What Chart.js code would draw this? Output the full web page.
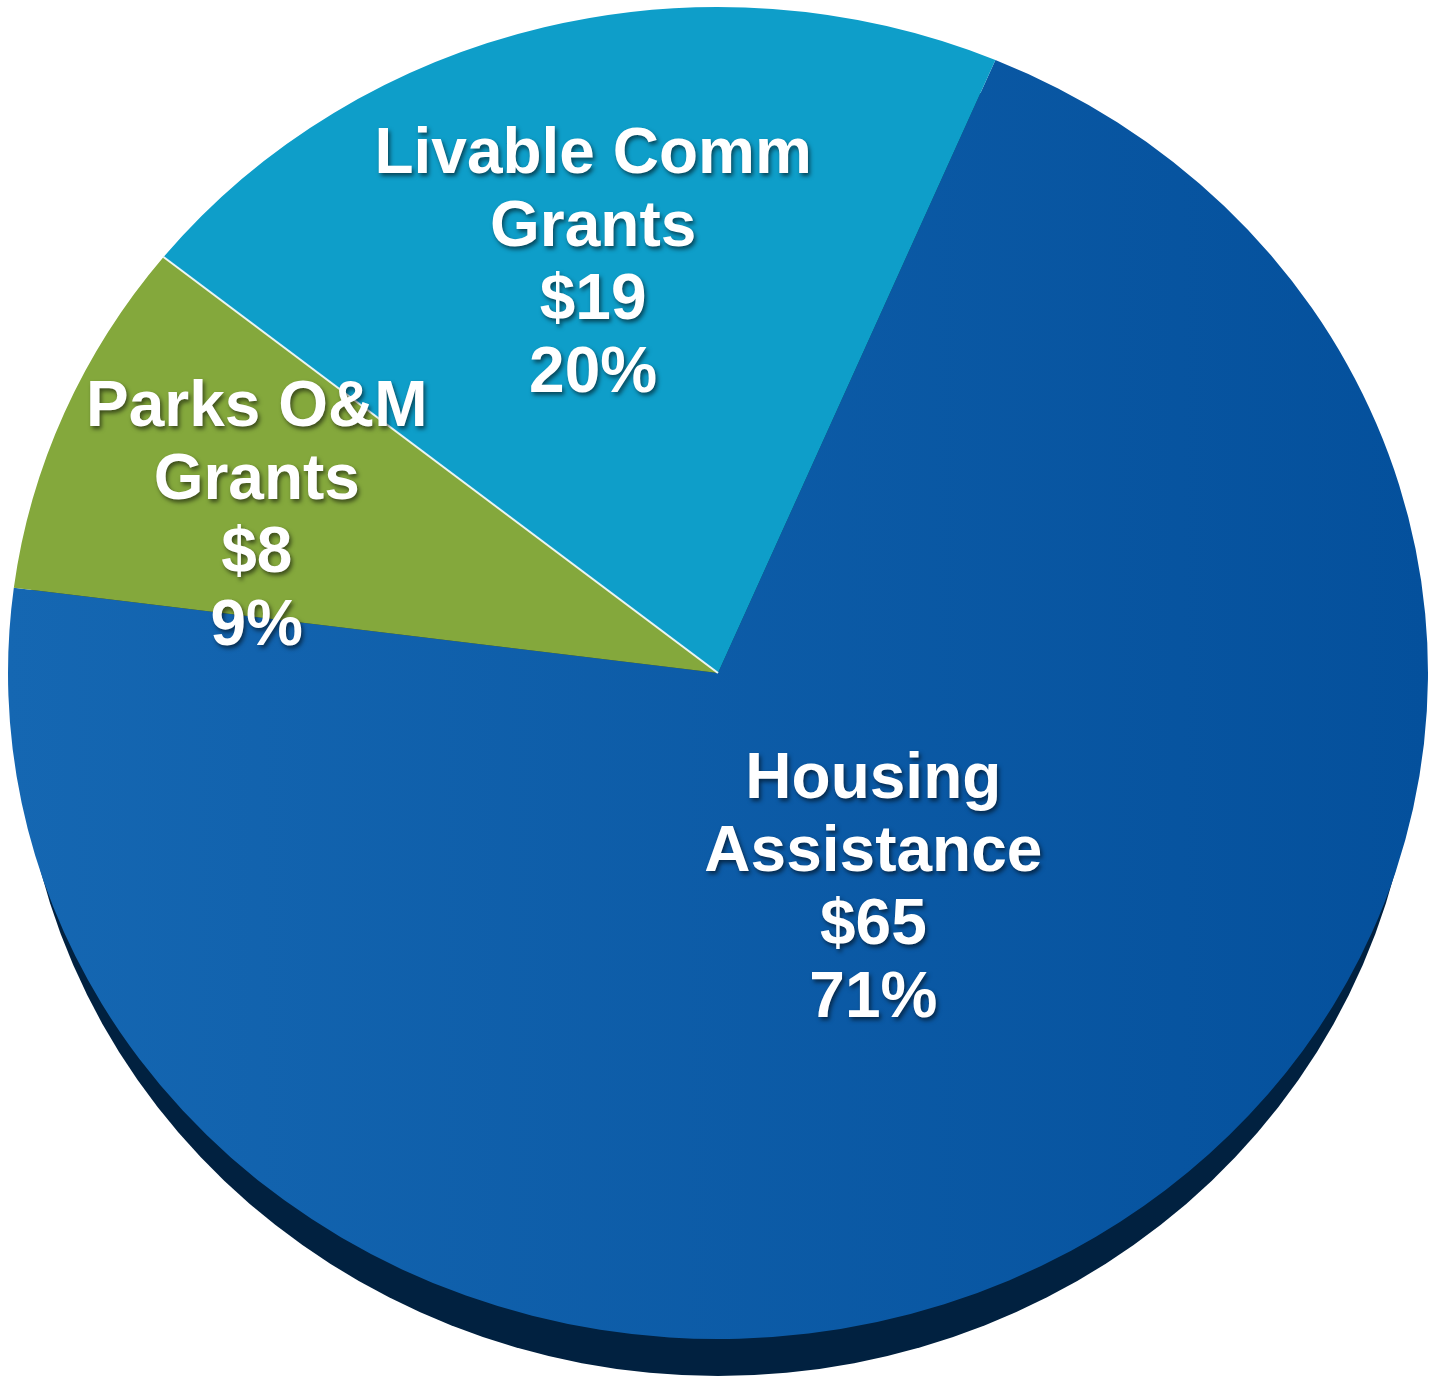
<!DOCTYPE html>
<html>
<head>
<meta charset="utf-8">
<script src="https://cdn.jsdelivr.net/npm/chart.js@4.4.1/dist/chart.umd.min.js"></script>
<style>
  html, body { margin: 0; padding: 0; background: #ffffff; }
  #wrap { width: 1430px; height: 1378px; position: relative; }
</style>
</head>
<body>
<div id="wrap"><canvas id="budget-pie" width="1430" height="1378"></canvas></div>
<script>
// Program budget split (in $ millions), clockwise from the top
const categories = [['Housing', 'Assistance'], ['Parks O&M', 'Grants'], ['Livable Comm', 'Grants']];
const amounts = [65, 8, 19];
const amountLabels = ['$65', '$8', '$19'];
const shareLabels = ['71%', '9%', '20%'];

// Slice looks
const sliceColors = ['#0b5aa6', '#84a83c', '#0e9ec9'];
const labelRadius = [0.392, 0.69, 0.637];
const labelTurn = [-4.1, -3.3, -1.85];   // degrees, nudges each label off the slice middle
const tilt = 0.938;      // vertical squash of the disc
const depth = 37;        // thickness of the dark rim under the disc
const rimInset = 12;     // rim is a bit narrower so it only shows along the bottom

function sliceFill(context) {
    const i = context.dataIndex;
    const { chart } = context;
    const area = chart.chartArea;
    if (i !== 0 || !area) return sliceColors[i];
    // housing slice fades slightly darker to the right
    const g = chart.ctx.createLinearGradient(area.left, 0, area.right, 0);
    g.addColorStop(0, '#1567b2');
    g.addColorStop(1, '#04509c');
    return g;
}

const tiltPlugin = {
    id: 'tilt',
    beforeDatasetsDraw(chart) {
        const arc = chart.getDatasetMeta(0).data[0];
        if (!arc) return;
        const { ctx } = chart;
        const { x, y, outerRadius } = arc.getProps(['x', 'y', 'outerRadius'], true);
        ctx.save();
        ctx.translate(x, y);
        ctx.scale(1, tilt);
        ctx.translate(-x, -y);
        // dark side of the disc
        ctx.beginPath();
        ctx.ellipse(x, y + depth / tilt, outerRadius - rimInset, outerRadius, 0, 0, Math.PI * 2);
        ctx.fillStyle = '#012140';
        ctx.fill();
    },
    afterDatasetsDraw(chart) {
        const { ctx } = chart;
        const meta = chart.getDatasetMeta(0);

        // thin white seam between the parks and livable slices (still squashed)
        const seam = meta.data[2];
        if (seam) {
            const { x, y, startAngle, outerRadius } =
                seam.getProps(['x', 'y', 'startAngle', 'outerRadius'], true);
            ctx.beginPath();
            ctx.moveTo(x, y);
            ctx.lineTo(x + Math.cos(startAngle) * outerRadius, y + Math.sin(startAngle) * outerRadius);
            ctx.strokeStyle = 'rgba(255,255,255,0.9)';
            ctx.lineWidth = 2;
            ctx.stroke();
        }
        ctx.restore();

        ctx.save();
        ctx.font = 'bold 64px "Liberation Sans", Arial, sans-serif';
        ctx.textAlign = 'center';
        ctx.textBaseline = 'middle';
        ctx.fillStyle = '#ffffff';
        ctx.shadowColor = 'rgba(0, 0, 0, 0.55)';
        ctx.shadowOffsetX = 2;
        ctx.shadowOffsetY = 3;
        ctx.shadowBlur = 4;
        meta.data.forEach((arc, i) => {
            const { x, y, startAngle, endAngle, outerRadius } =
                arc.getProps(['x', 'y', 'startAngle', 'endAngle', 'outerRadius'], true);
            const mid = (startAngle + endAngle) / 2 + labelTurn[i] * Math.PI / 180;
            const r = outerRadius * labelRadius[i];
            const cx = x + Math.cos(mid) * r;
            const cy = y + Math.sin(mid) * r * tilt;
            const lines = [...categories[i], amountLabels[i], shareLabels[i]];
            const lh = 73;
            lines.forEach((t, k) => {
                ctx.fillText(t, cx, cy + (k - (lines.length - 1) / 2) * lh);
            });
        });
        ctx.restore();
    }
};

new Chart(document.getElementById('budget-pie'), {
    type: 'pie',
    data: {
        labels: categories.map(c => c.join(' ')),
        datasets: [{
            data: amounts,
            backgroundColor: sliceFill,
            borderWidth: 0,
            radius: 710
        }]
    },
    options: {
        responsive: false,
        animation: false,
        rotation: 23,
        layout: { padding: { left: 6, right: 0, top: 0, bottom: 32 } },
        plugins: {
            legend: { display: false },
            tooltip: { enabled: false }
        }
    },
    plugins: [tiltPlugin]
});
</script>
</body>
</html>
